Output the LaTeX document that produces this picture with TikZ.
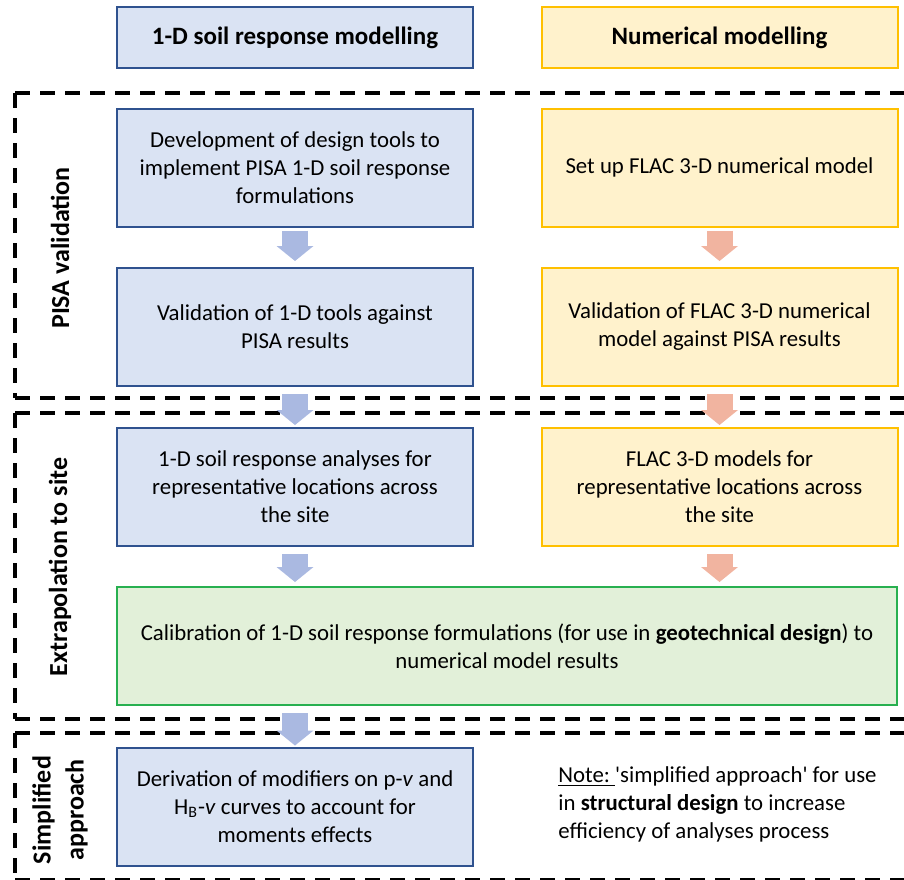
\documentclass[tikz,border=0pt]{standalone}
\usepackage{fontspec}
\setmainfont{Carlito}
\usepackage{xcolor}
\usetikzlibrary{arrows.meta}

\definecolor{boxblue}{RGB}{218,227,243}
\definecolor{lineblue}{RGB}{47,82,143}
\definecolor{boxyellow}{RGB}{255,242,204}
\definecolor{lineyellow}{RGB}{255,192,0}
\definecolor{boxgreen}{RGB}{226,240,217}
\definecolor{linegreen}{RGB}{40,176,80}
\definecolor{arrowblue}{RGB}{170,185,225}
\definecolor{arrowpink}{RGB}{241,180,160}

\tikzset{
  stage/.style={draw, line width=1pt, minimum width=178pt, minimum height=59pt, align=center, inner sep=2pt, font=\fontsize{11.4}{14}\selectfont},
  soilbox/.style={stage, draw=lineblue, fill=boxblue},
  numbox/.style={stage, draw=lineyellow, fill=boxyellow},
  calbox/.style={stage, draw=linegreen, fill=boxgreen, minimum width=390pt},
  headbox/.style={minimum height=30.5pt, font=\fontsize{12.5}{14}\selectfont\bfseries},
  zone/.style={dash pattern=on 7.5pt off 5pt, line width=1.6pt},
  zonelabel/.style={rotate=90, align=center, font=\fontsize{13}{16.5}\selectfont\bfseries},
  flow/.style={line width=13pt, -{Triangle[width=18.5pt,length=7.5pt,line width=0pt]}},
  soilflow/.style={flow, draw=arrowblue},
  numflow/.style={flow, draw=arrowpink},
}

\begin{document}
\begin{tikzpicture}[x=0.5pt,y=0.5pt,yscale=-1,xscale=1]
  \useasboundingbox (0,0) rectangle (904,879);
  \clip (0,0) rectangle (904,879);

  %Dashed zones
  \draw[zone] (15,93) -- (904,93);
  \draw[zone] (15,93) -- (15,398);
  \draw[zone] (15,398) -- (904,398);
  \draw[zone] (15,413) -- (904,413);
  \draw[zone] (15,413) -- (15,719);
  \draw[zone] (15,719) -- (904,719);
  \draw[zone] (15,733) -- (904,733);
  \draw[zone] (15,733) -- (15,880);
  \draw[zone] (15,880) -- (904,880);

  % Text Node
  \node (soilhead) [soilbox,headbox] at (295,37.5) {1-D soil response modelling};
  % Text Node
  \node (numhead) [numbox,headbox] at (719.5,37.5) {Numerical modelling};

  % Text Node
  \node (devtools) [soilbox] at (295,167.5) {Development of design tools to\\implement PISA 1-D soil response\\formulations};
  % Text Node
  \node (valtools) [soilbox] at (295,327) {Validation of 1-D tools against\\PISA results};
  % Text Node
  \node (setup) [numbox] at (719.5,167.5) {Set up FLAC 3-D numerical model};
  % Text Node
  \node (valmodel) [numbox] at (719.5,327) {Validation of FLAC 3-D numerical\\model against PISA results};
  % Text Node
  \node (analyses) [soilbox] at (295,487) {1-D soil response analyses for\\representative locations across\\the site};
  % Text Node
  \node (models) [numbox] at (719.5,487) {FLAC 3-D models for\\representative locations across\\the site};
  % Text Node
  \node (calib) [calbox] at (507,646) {Calibration of 1-D soil response formulations (for use in \textbf{geotechnical design}) to\\numerical model results};
  % Text Node
  \node (modifiers) [soilbox] at (295,806.5) {Derivation of modifiers on p-\textit{v} and\\H\textsubscript{B}-\textit{v} curves to account for\\moments effects};
  % Text Node
  \node (note) [anchor=north west, align=left, inner sep=0pt, font=\fontsize{11.4}{14}\selectfont] at (558,766) {\underline{Note:\ }\textquotesingle simplified approach\textquotesingle{} for use\\in \textbf{structural design} to increase\\efficiency of analyses process};

  % Zone labels
  \node (pisalabel) [zonelabel] at (60,248) {PISA validation};
  \node (sitelabel) [zonelabel] at (60,567) {Extrapolation to site};
  \node (simplelabel) [zonelabel] at (60,810) {Simplified\\approach};

  %Block arrows
  \draw[soilflow, shorten <=1.5pt, shorten >=3pt] (devtools.south) -- (valtools.north);
  \draw[numflow, shorten <=1.5pt, shorten >=3pt] (setup.south) -- (valmodel.north);
  \draw[soilflow, shorten <=3.5pt, shorten >=1pt] (valtools.south) -- (analyses.north);
  \draw[numflow, shorten <=3.5pt, shorten >=1pt] (valmodel.south) -- (models.north);
  \draw[soilflow, shorten <=3.5pt, shorten >=2pt] (analyses.south) -- (analyses.south |- calib.north);
  \draw[numflow, shorten <=3.5pt, shorten >=2pt] (models.south) -- (models.south |- calib.north);
  \draw[soilflow, shorten <=3.5pt, shorten >=0.5pt] (modifiers.north |- calib.south) -- (modifiers.north);

\end{tikzpicture}
\end{document}
